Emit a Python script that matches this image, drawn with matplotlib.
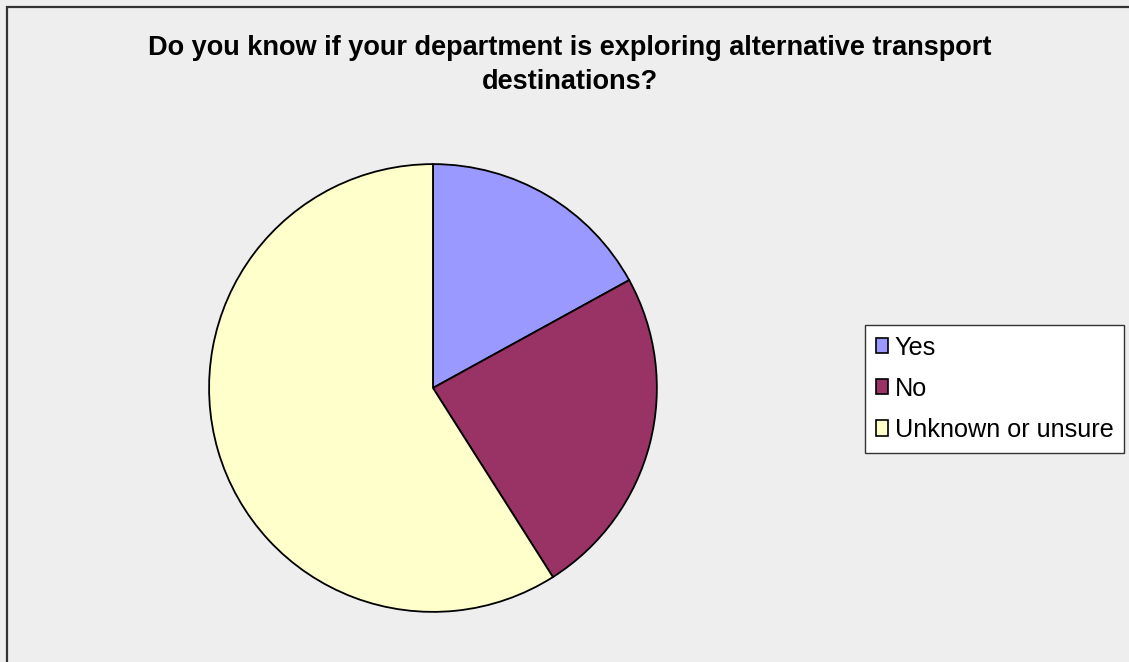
import matplotlib.pyplot as plt
from matplotlib.patches import Rectangle, Patch

# Survey responses (percent of respondents)
labels = ["Yes", "No", "Unknown or unsure"]
shares = [17, 24, 59]
colors = ["#9999FF", "#993366", "#FFFFCC"]

plt.rcParams['font.family'] = ['Liberation Sans', 'DejaVu Sans']

fig = plt.figure(figsize=(11.29, 6.62), dpi=100)
fig.patch.set_facecolor("#EEEEEE")

# chart frame
fig.patches.append(Rectangle((7 / 1129, -0.01), 1.02, 1 - 7 / 662 + 0.01,
                             transform=fig.transFigure, fill=False,
                             edgecolor="#333333", linewidth=1.6))

ax = fig.add_axes([0.1842, 0.0740, 0.3986, 0.6798])
ax.pie(shares, colors=colors, startangle=90, counterclock=False,
       wedgeprops=dict(edgecolor="black", linewidth=1.3))
ax.set_xlim(-1.005, 1.005)
ax.set_ylim(-1.005, 1.005)
ax.set_aspect("equal")
ax.axis("off")

fig.text(0.505, 1 - 65 / 662, "Do you know if your department is exploring alternative transport\ndestinations?",
         ha="center", va="center", fontsize=19.5, fontweight="bold", linespacing=1.42)

handles = [Patch(facecolor=c, edgecolor="black", linewidth=1.2) for c in colors]
leg = fig.legend(handles, labels, loc="upper left",
                 bbox_to_anchor=(865 / 1129, 1 - 325 / 662),
                 fontsize=18.2, frameon=True, fancybox=False, framealpha=1,
                 handlelength=0.5, handleheight=0.55, handletextpad=0.25,
                 borderpad=0.42, labelspacing=0.68, borderaxespad=0)
leg.get_frame().set_edgecolor("#333333")
leg.get_frame().set_facecolor("white")
leg.get_frame().set_linewidth(1.0)

fig.savefig("out.png", dpi=100, facecolor=fig.get_facecolor())
